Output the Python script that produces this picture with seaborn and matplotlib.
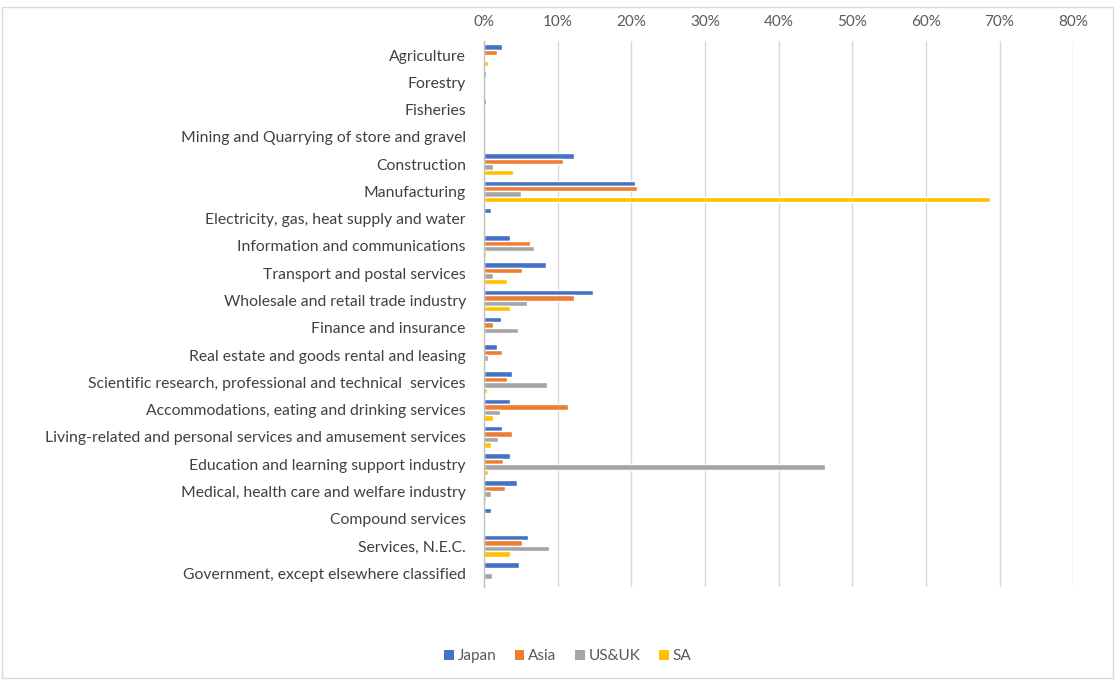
import matplotlib
matplotlib.use("Agg")
import matplotlib.pyplot as plt
import matplotlib.ticker as mtick
from matplotlib.patches import Rectangle, Patch
import pandas as pd
import seaborn as sns

industries = [
    "Agriculture",
    "Forestry",
    "Fisheries",
    "Mining and Quarrying of store and gravel",
    "Construction",
    "Manufacturing",
    "Electricity, gas, heat supply and water",
    "Information and communications",
    "Transport and postal services",
    "Wholesale and retail trade industry",
    "Finance and insurance",
    "Real estate and goods rental and leasing",
    "Scientific research, professional and technical  services",
    "Accommodations, eating and drinking services",
    "Living-related and personal services and amusement services",
    "Education and learning support industry",
    "Medical, health care and welfare industry",
    "Compound services",
    "Services, N.E.C.",
    "Government, except elsewhere classified",
]

regions = ["Japan", "Asia", "US&UK", "SA"]

# Share of workers by industry (fractions)
japan = [0.025, 0.0025, 0.0035, 0.0005, 0.122, 0.205, 0.009, 0.036, 0.084, 0.148,
         0.023, 0.018, 0.038, 0.035, 0.025, 0.035, 0.045, 0.009, 0.060, 0.048]
asia = [0.018, 0.0005, 0.0005, 0.0003, 0.107, 0.208, 0.0003, 0.062, 0.052, 0.122,
        0.0125, 0.024, 0.032, 0.114, 0.038, 0.0255, 0.029, 0.001, 0.0515, 0.001]
us_uk = [0.002, 0.0003, 0.0003, 0.0005, 0.0125, 0.051, 0.0003, 0.068, 0.0125, 0.059,
         0.0465, 0.006, 0.086, 0.0215, 0.019, 0.463, 0.009, 0.0003, 0.089, 0.0115]
sa = [0.006, 0.0005, 0.0005, 0.0005, 0.040, 0.687, 0.0005, 0.0035, 0.031, 0.035,
      0.002, 0.0005, 0.0045, 0.0125, 0.009, 0.006, 0.0035, 0.0003, 0.035, 0.001]

palette = ["#4472C4", "#ED7D31", "#A5A5A5", "#FFC000"]

df = pd.DataFrame({
    "Industry": industries * 4,
    "Region": [r for r in regions for _ in industries],
    "Share": japan + asia + us_uk + sa,
})

sns.set_theme(style="white")
plt.rcParams["font.family"] = ["Lato", "DejaVu Sans"]

fig = plt.figure(figsize=(11.15, 6.8), dpi=100)
ax = fig.add_axes([0.434, 0.137, 0.5285, 0.802])

sns.barplot(data=df, y="Industry", x="Share", hue="Region", order=industries,
            hue_order=regions, palette=palette, orient="h", width=0.8,
            saturation=1, ax=ax, legend=False)

ax.set_xlim(0, 0.8)
ax.xaxis.set_major_locator(mtick.MultipleLocator(0.1))
ax.xaxis.set_major_formatter(mtick.PercentFormatter(1.0, decimals=0))
ax.xaxis.tick_top()
ax.tick_params(axis="x", length=0, pad=9, labelsize=11, labelcolor="#595959")
ax.tick_params(axis="y", length=0, pad=13, labelsize=11.3, labelcolor="#404040")
ax.set_xlabel("")
ax.set_ylabel("")
ax.grid(axis="x", color="#D9D9D9", linewidth=1)
ax.set_axisbelow(True)
for side in ["top", "right", "bottom"]:
    ax.spines[side].set_visible(False)
ax.spines["left"].set_color("#BFBFBF")
ax.spines["left"].set_linewidth(1)

handles = [Patch(facecolor=c, edgecolor="none", label=r) for c, r in zip(palette, regions)]
fig.legend(handles=handles, loc="center", bbox_to_anchor=(0.509, 0.035), ncol=4,
           frameon=False, fontsize=11, handlelength=0.65, handleheight=0.65,
           handletextpad=0.25, columnspacing=1.2, labelcolor="#595959")

# chart-area border
fig.patches.append(Rectangle((0.002, 0.003), 0.996, 0.987, transform=fig.transFigure,
                             fill=False, edgecolor="#D9D9D9", linewidth=1))

fig.savefig("out.png", dpi=100)
